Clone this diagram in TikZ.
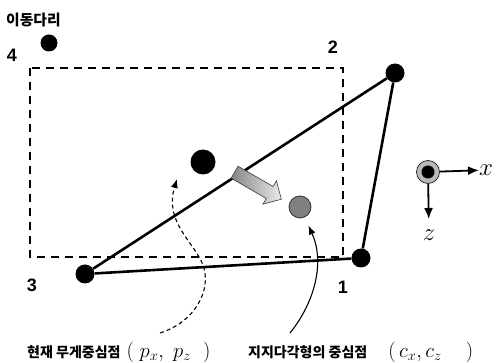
\documentclass[tikz,border=0pt]{standalone}
\usepackage{fontspec}
\setsansfont{Liberation Sans}
\newfontfamily\kr{Noto Sans CJK KR}
\usetikzlibrary{arrows.meta,shapes.arrows}
\definecolor{CenGray}{HTML}{808080}
\definecolor{MoveDark}{HTML}{858585}
\definecolor{MoveLight}{HTML}{EAEAEA}

\begin{document}
\begin{tikzpicture}[x=1pt,y=-1pt,>={Latex[length=9pt,width=7pt]},
    dot/.style={circle, fill=black, inner sep=0pt, minimum size=#1},
    ptlabel/.style={font=\sffamily\bfseries\fontsize{18}{18}\selectfont, inner sep=0pt},
    krlabel/.style={font=\kr\bfseries\fontsize{14}{15}\selectfont, inner sep=0pt},
    mathlabel/.style={font=\fontsize{26}{26}\selectfont, inner sep=0pt},
    legline/.style={line width=2.6pt},
    axisarrow/.style={-{Latex[length=11pt,width=9pt]}, line width=1.8pt}]
    \useasboundingbox (0,0) rectangle (498,363);

    % ========== Support region ==========
    \draw[line width=2.2pt, dash pattern=on 8pt off 6pt] (30,68) rectangle (343,257);

    % ========== Legs ==========
    \node[dot=19pt] (p1) at (361,258) {};
    \node[dot=19pt] (p2) at (395,73) {};
    \node[dot=19pt] (p3) at (85,274) {};
    \node[dot=17pt] (p4) at (49,43) {};
    \draw[legline] (p3) -- (p2) -- (p1) -- (p3);

    \node[ptlabel] (n1) at (343,287) {1};
    \node[ptlabel] (n2) at (333,47) {2};
    \node[ptlabel] (n3) at (32,285) {3};
    \node[ptlabel] (n4) at (12,55) {4};
    \node[krlabel, font=\kr\bfseries\fontsize{14.8}{15}\selectfont, anchor=west] (swing) at (6,20) {이동다리};

    % ========== Centres ==========
    \node[dot=25pt] (cog) at (203,162) {};
    \node[circle, fill=CenGray, draw=gray!40!black, line width=0.8pt, inner sep=0pt,
        minimum size=22pt] (cen) at (300,207) {};

    % shift of the centre of gravity
    \node[single arrow, draw=gray!45!black, line width=0.6pt, left color=MoveDark,
        right color=MoveLight, minimum height=54pt, minimum width=27pt,
        single arrow head extend=6.5pt, inner sep=6.5pt, rotate=-30] (shift) at (255,184) {};

    % ========== Labels at the bottom ==========
    \node[krlabel, anchor=base west] (cogtxt) at (27,357)
        {현재 무게중심점\hspace{6pt}{\fontsize{22}{22}\selectfont$(\;p_x,\;p_z\hspace{12pt})$}};
    \node[krlabel, anchor=base west] (centxt) at (248,357)
        {지지다각형의 중심점\hspace{21pt}{\fontsize{22}{22}\selectfont$(\,c_x,c_z\hspace{24pt})$}};

    \coordinate (cogfoot) at (160,333);
    \coordinate (cogtip) at ([shift={(-26,17)}]cog);
    \coordinate (cenfoot) at (290,333);

    \draw[->, line width=1.1pt, dash pattern=on 4pt off 3pt] (cogfoot)
        .. controls (195,322) and (212,290) .. (203,265)
        .. controls (194,242) and (164,222) .. (cogtip);
    \draw[->, line width=1.1pt, shorten >=9pt] (cenfoot)
        .. controls (315,302) and (325,262) .. (cen);

    % ========== Axes ==========
    \node[circle, fill=gray!55, draw=gray!35!black, line width=0.8pt, inner sep=0pt,
        minimum size=23pt] (org) at (428,172) {};
    \node[dot=13pt] (orgc) at (org) {};
    \node[mathlabel, anchor=west] (xlab) at (479,170) {$x$};
    \node[mathlabel, anchor=north] (zlab) at (429,230) {$z$};
    \draw[axisarrow] (org) -- (xlab);
    \draw[axisarrow, shorten >=11pt] (org) -- (zlab);

\end{tikzpicture}
\end{document}
